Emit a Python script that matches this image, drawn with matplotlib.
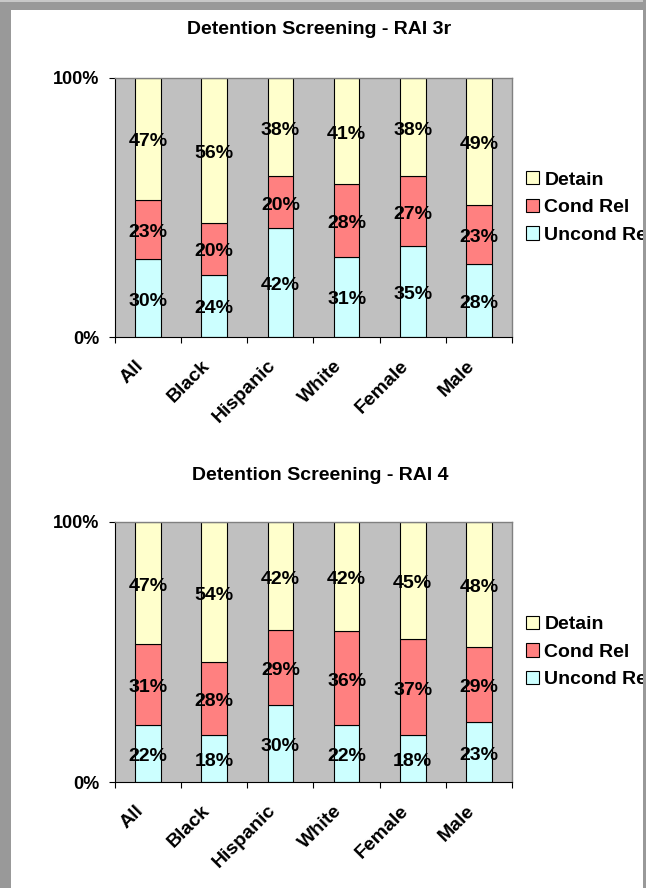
import numpy as np
import matplotlib
matplotlib.use("Agg")
import matplotlib.pyplot as plt
from matplotlib.patches import Rectangle
from matplotlib.transforms import ScaledTranslation

groups = ["All", "Black", "Hispanic", "White", "Female", "Male"]
series = ["Uncond Rel", "Cond Rel", "Detain"]
colors = ["#ccffff", "#ff8080", "#ffffcc"]

# RAI 3r screening outcomes (%)
rai3r_uncond = [30, 24, 42, 31, 35, 28]
rai3r_cond = [23, 20, 20, 28, 27, 23]
rai3r_detain = [47, 56, 38, 41, 38, 49]

# RAI 4 screening outcomes (%)
rai4_uncond = [22, 18, 30, 22, 18, 23]
rai4_cond = [31, 28, 29, 36, 37, 29]
rai4_detain = [47, 54, 42, 42, 45, 48]

W, H = 646, 888
plt.rcParams["font.family"] = ["Liberation Sans", "DejaVu Sans"]
plt.rcParams["font.weight"] = "bold"

fig = plt.figure(figsize=(W / 100, H / 100), dpi=100)


def px(x0, y0, x1, y1):
    # pixel box (top-left origin) -> figure-fraction rect
    return [x0 / W, 1 - y1 / H, (x1 - x0) / W, (y1 - y0) / H]


def chart(rect, title, title_xy, rows):
    ax = fig.add_axes(rect)
    ax.set_facecolor("#c0c0c0")
    data = np.array(rows, float)
    pct = data / data.sum(axis=0) * 100      # 100% stacked
    x = np.arange(len(groups))
    bottom = np.zeros(len(groups))
    handles = []
    lab_off = ax.transData + ScaledTranslation(0, -3 / 100, fig.dpi_scale_trans)
    for vals, p, col in zip(data, pct, colors):
        bars = ax.bar(x, p, 0.39, bottom=bottom, color=col,
                      edgecolor="black", linewidth=0.8, zorder=2)
        for xi, b, h, v in zip(x, bottom, p, vals):
            ax.text(xi, b + h / 2, f"{v:.0f}%", ha="center", va="center",
                    transform=lab_off, fontsize=14, fontweight="bold", zorder=3)
        bottom += p
        handles.append(bars)

    ax.set_xlim(-0.5, len(groups) - 0.5)
    ax.set_ylim(0, 100)
    ax.set_xticks(x)
    ax.set_xticklabels([])
    ax.set_xticks(np.arange(-0.5, len(groups), 1), minor=True)
    ax.tick_params(axis="x", which="major", length=0)
    ax.tick_params(axis="x", which="minor", length=4.3, width=0.8)
    ax.set_yticks([0, 100])
    ax.set_yticklabels(["0%", "100%"])
    ax.tick_params(axis="y", length=4.3, width=0.8, pad=7.2, labelsize=13)

    off = ScaledTranslation(-13 / 100, -20 / 100, fig.dpi_scale_trans)
    for xi, g in zip(x, groups):
        ax.text(xi, 0, g, transform=ax.get_xaxis_transform() + off,
                rotation=45, ha="right", va="top", rotation_mode="anchor",
                fontsize=14, fontweight="bold")

    for s in ("top", "right"):
        ax.spines[s].set_color("#808080")
        ax.spines[s].set_linewidth(1)
    for s in ("left", "bottom"):
        ax.spines[s].set_linewidth(0.8)

    # legend runs past the right edge, as in the source sheet
    ax.legend(handles[::-1], series[::-1], loc="center left",
              bbox_to_anchor=(1 + 14 / 397, 0.5), frameon=False, fontsize=14,
              handlelength=0.67, handleheight=0.67, handletextpad=0.28,
              labelspacing=0.52, borderpad=0, borderaxespad=0)

    fig.text(title_xy[0] / W, 1 - title_xy[1] / H, title, ha="center",
             va="center", fontsize=14, fontweight="bold")
    return ax


chart(px(115, 78, 512, 337), "Detention Screening - RAI 3r", (319, 30),
      [rai3r_uncond, rai3r_cond, rai3r_detain])
chart(px(115, 522, 512, 782), "Detention Screening - RAI 4", (320, 475),
      [rai4_uncond, rai4_cond, rai4_detain])

# grey page frame
frame = dict(transform=fig.transFigure, linewidth=0, zorder=10)
fig.add_artist(Rectangle((0, 0), 11 / W, 1, color="#999999", **frame))
fig.add_artist(Rectangle((0, 1 - 10 / H), 1, 8 / H, color="#999999", **frame))
fig.add_artist(Rectangle((0, 1 - 2 / H), 1, 2 / H, color="#c8c8c8", **frame))
fig.add_artist(Rectangle((643 / W, 0), 3 / W, 1, color="#999999", **frame))

fig.savefig("out.png", dpi=100)
